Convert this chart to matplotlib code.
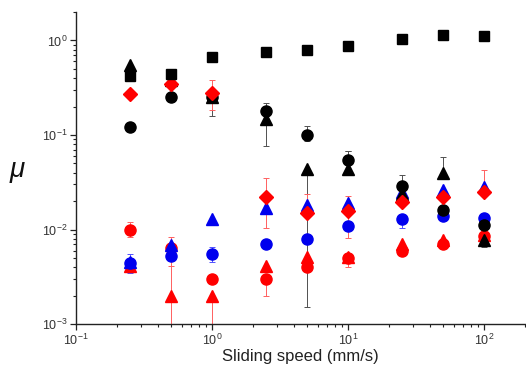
import matplotlib
matplotlib.use("Agg")
import matplotlib.pyplot as plt
import numpy as np
from matplotlib.ticker import LogLocator, FuncFormatter, NullFormatter

plt.rcParams['font.family'] = ['Liberation Sans', 'DejaVu Sans']
plt.rcParams['mathtext.fontset'] = 'custom'
plt.rcParams['mathtext.rm'] = 'Liberation Sans'
plt.rcParams['mathtext.it'] = 'Liberation Sans:italic'

speed = [0.25, 0.5, 1, 2.5, 5, 10, 25, 50, 100]

black_sq = [0.42, 0.446, 0.66, 0.756, 0.79, 0.875, 1.03, 1.14, 1.11]
black_tri = [0.55, 0.38, 0.25, 0.148, 0.044, 0.044, 0.024, 0.040, 0.0078]
black_tri_lo = [0, 0, 0.09, 0.071, 0.0425, 0, 0, 0, 0.0013]
black_tri_hi = [0, 0, 0, 0, 0, 0.024, 0, 0.018, 0]
black_circ = [0.12, 0.255, 0.25, 0.18, 0.10, 0.054, 0.029, 0.016, 0.0112]
black_circ_lo = [0, 0, 0, 0, 0.013, 0, 0, 0, 0]
black_circ_hi = [0, 0, 0, 0.04, 0.025, 0.014, 0.009, 0, 0]

red_dia = [0.27, 0.35, 0.28, 0.0223, 0.015, 0.0159, 0.0198, 0.022, 0.025]
red_dia_lo = [0, 0, 0.095, 0.012, 0, 0.0078, 0, 0, 0]
red_dia_hi = [0, 0, 0.10, 0.013, 0.009, 0.007, 0, 0, 0.018]
red_tri = [0.0041, 0.0020, 0.0020, 0.0041, 0.0051, 0.0051, 0.0071, 0.0077, 0.0087]
red_tri_lo = [0, 0.00195, 0.00195, 0, 0, 0.0011, 0, 0, 0]
red_tri_hi = [0, 0.0063, 0, 0, 0, 0, 0, 0, 0]
red_circ = [0.0100, 0.0064, 0.0030, 0.0030, 0.0040, 0.0050, 0.0060, 0.0071, 0.0085]
red_circ_lo = [0.0017, 0.0023, 0, 0.001, 0, 0, 0, 0, 0]
red_circ_hi = [0.0019, 0, 0, 0, 0, 0, 0, 0, 0]

blue_tri = [0.0045, 0.0068, 0.0128, 0.0168, 0.018, 0.019, 0.025, 0.026, 0.0285]
blue_circ = [0.0044, 0.0053, 0.0055, 0.0071, 0.0080, 0.0110, 0.0130, 0.0140, 0.0132]
blue_circ_lo = [0.0009, 0, 0.001, 0, 0, 0, 0.0025, 0, 0]
blue_circ_hi = [0.0011, 0, 0.001, 0, 0, 0, 0, 0, 0]

fig = plt.figure(figsize=(5.26, 3.73), dpi=100)
ax = fig.add_axes([0.1445, 0.131, 0.8535, 0.837])

RED = '#ff0000'
BLUE = '#0000ee'
ekw = dict(linestyle='none', capsize=2.2, elinewidth=0.7, capthick=0.7)

ax.errorbar(speed, red_circ, yerr=[red_circ_lo, red_circ_hi], marker='o', ms=8,
            color=RED, ecolor='#ff6060', **ekw)
ax.errorbar(speed, red_tri, yerr=[red_tri_lo, red_tri_hi], marker='^', ms=8.5,
            color=RED, ecolor='#ff6060', **ekw)
ax.errorbar(speed, blue_circ, yerr=[blue_circ_lo, blue_circ_hi], marker='o', ms=8,
            color=BLUE, ecolor='#5050ff', **ekw)
ax.errorbar(speed, blue_tri, marker='^', ms=8.5, color=BLUE, **ekw)
ax.errorbar(speed, black_circ, yerr=[black_circ_lo, black_circ_hi], marker='o', ms=8,
            color='black', ecolor='#505050', **ekw)
ax.errorbar(speed, black_tri, yerr=[black_tri_lo, black_tri_hi], marker='^', ms=8.5,
            color='black', ecolor='#505050', **ekw)
ax.errorbar(speed, red_dia, yerr=[red_dia_lo, red_dia_hi], marker='D', ms=7.3,
            color=RED, ecolor='#ff6060', **ekw)
ax.errorbar(speed, black_sq, marker='s', ms=6.8, color='black', **ekw)

ax.set_xscale('log')
ax.set_yscale('log')
ax.set_xlim(0.1, 200)
ax.set_ylim(0.001, 2)

for s in ['top', 'right']:
    ax.spines[s].set_visible(False)
for s in ['left', 'bottom']:
    ax.spines[s].set_linewidth(1.0)
    ax.spines[s].set_color('#222222')

def fmt(v, pos):
    e = int(round(np.log10(v)))
    return r'$\mathregular{10^{%d}}$' % e

ax.xaxis.set_major_locator(LogLocator(base=10, numticks=10))
ax.yaxis.set_major_locator(LogLocator(base=10, numticks=10))
ax.xaxis.set_minor_locator(LogLocator(base=10, subs=np.arange(2, 10), numticks=20))
ax.yaxis.set_minor_locator(LogLocator(base=10, subs=np.arange(2, 10), numticks=20))
ax.xaxis.set_major_formatter(FuncFormatter(fmt))
ax.yaxis.set_major_formatter(FuncFormatter(fmt))
ax.xaxis.set_minor_formatter(NullFormatter())
ax.yaxis.set_minor_formatter(NullFormatter())
ax.tick_params(which='major', direction='out', length=4, width=0.9, color='#222222',
               labelsize=9, labelcolor='#333333', pad=2)
ax.tick_params(which='minor', direction='out', length=2.5, width=0.8, color='#222222')

ax.set_xlabel('Sliding speed (mm/s)', fontsize=12, color='#222222', labelpad=1)
fig.text(0.034, 0.54, r'$\mu$', fontsize=20, ha='center', va='center', color='#111111')

fig.savefig('out.png', dpi=100)
